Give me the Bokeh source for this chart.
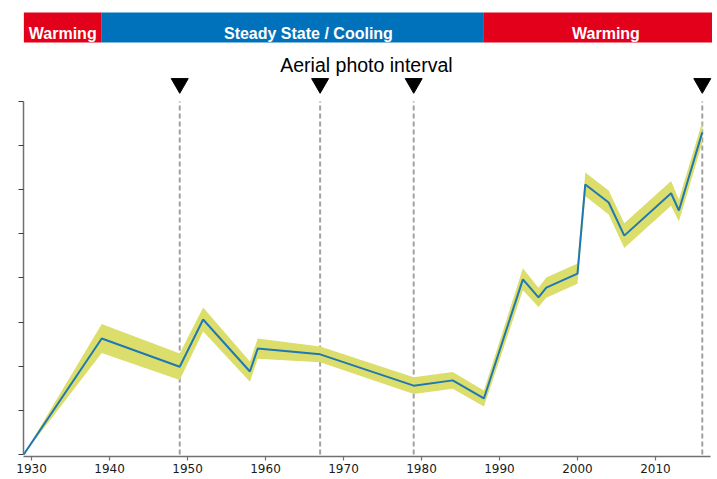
from bokeh.plotting import figure
from bokeh.models import Range1d, FixedTicker, ColumnDataSource, CustomJSTickFormatter
from bokeh.core.properties import value
from bokeh.embed import file_html
from bokeh.resources import INLINE

# ---------------- data ----------------
years = [1929, 1939, 1949, 1952, 1958, 1959, 1967, 1979, 1984, 1988,
         1993, 1995, 1996, 2000, 2001, 2004, 2006, 2012, 2013, 2016]
values = [0.0, 2.63, 1.99, 3.06, 1.88, 2.40, 2.27, 1.56, 1.68, 1.27,
          3.97, 3.56, 3.78, 4.10, 6.12, 5.71, 4.96, 5.92, 5.53, 7.30]
uncert = [0.0, 0.33, 0.30, 0.27, 0.23, 0.23, 0.18, 0.19, 0.19, 0.18,
          0.25, 0.22, 0.23, 0.23, 0.27, 0.27, 0.28, 0.28, 0.25, 0.24]

photo_years = [1949, 1967, 1979, 2016]

phase_start = [1929, 1939, 1988]
phase_end = [1939, 1988, 2017.3]
phase_label = ["Warming", "Steady State / Cooling", "Warming"]
phase_color = ["#E2001A", "#0072BB", "#E2001A"]

x_ticks = [1930, 1940, 1950, 1960, 1970, 1980, 1990, 2000, 2010]
y_ticks = [0, 1, 2, 3, 4, 5, 6, 7, 8]

# ---------------- figure ----------------
X0, X1 = 1928.97, 2017.31
p = figure(output_backend="svg", toolbar_location=None,
           frame_width=689, frame_height=446,
           min_border_left=23, min_border_right=0, min_border_top=10,
           min_border_bottom=20,
           x_range=Range1d(X0, X1), y_range=Range1d(-0.0453, 10.062))
p.extra_y_ranges = {"px": Range1d(start=456, end=10)}
p.outline_line_color = None
p.xgrid.visible = False
p.ygrid.visible = False
p.background_fill_color = "white"
p.border_fill_color = "white"

# axes
p.xaxis.ticker = FixedTicker(ticks=x_ticks)
p.xaxis.bounds = (X0, 2017.1)
p.xaxis.axis_line_color = "#707070"
p.xaxis.axis_line_width = 1.5
p.xaxis.major_tick_line_color = "#707070"
p.xaxis.major_tick_line_width = 1.2
p.xaxis.major_tick_out = 4
p.xaxis.major_tick_in = 0
p.xaxis.minor_tick_line_color = None
p.xaxis.major_label_standoff = 3
p.xaxis.major_label_text_font = "DejaVu Sans"
p.xaxis.major_label_text_font_size = "12px"
p.xaxis.major_label_text_color = "#1a1a1a"

p.yaxis.ticker = FixedTicker(ticks=y_ticks)
p.yaxis.formatter = CustomJSTickFormatter(code="return ''")
p.yaxis.bounds = (0, 8)
p.yaxis.axis_line_color = "#707070"
p.yaxis.axis_line_width = 1.5
p.yaxis.major_tick_line_color = "#404040"
p.yaxis.major_tick_line_width = 1.2
p.yaxis.major_tick_out = 5
p.yaxis.major_tick_in = 0
p.yaxis.minor_tick_line_color = None
p.yaxis.major_label_standoff = 0

# photo interval dashed lines
p.segment(x0=photo_years, y0=[0] * len(photo_years), x1=photo_years,
          y1=[8] * len(photo_years), line_color="#A0A0A0", line_width=2,
          line_dash="5 3")

# uncertainty band and line
src = ColumnDataSource(dict(
    x=years, y=values,
    lo=[v - u for v, u in zip(values, uncert)],
    hi=[v + u for v, u in zip(values, uncert)]))
p.varea(x="x", y1="lo", y2="hi", source=src, fill_color="#DCDE6C")
p.line(x="x", y="y", source=src, line_color="#1F78B4", line_width=2)

# phase banner (pixel-row range for the decoration strip)
p.quad(left=phase_start, right=phase_end, bottom=[42] * 3, top=[12] * 3,
       fill_color=phase_color, line_color=None, y_range_name="px")
label_x = [(s + e) / 2 for s, e in zip(phase_start, phase_end)]
label_x = [label_x[0], label_x[1] + 2.0, label_x[2] + 1.0]
p.text(x=label_x, y=[32.5] * 3, text=phase_label, y_range_name="px",
       text_font=value("Liberation Sans"), text_font_style="bold",
       text_font_size="16px", text_color="white", text_align="center",
       text_baseline="alphabetic")

# aerial photo interval title and markers
p.text(x=[(X0 + X1) / 2 - 0.2], y=[64], text=["Aerial photo interval"],
       y_range_name="px", text_font=value("Liberation Sans"),
       text_font_size="19.5px", text_color="black", text_align="center",
       text_baseline="alphabetic")
p.scatter(x=photo_years, y=[83] * len(photo_years), marker="inverted_triangle",
          size=17, fill_color="black", line_color="black", y_range_name="px")

open("out.html", "w").write(file_html(p, INLINE))
